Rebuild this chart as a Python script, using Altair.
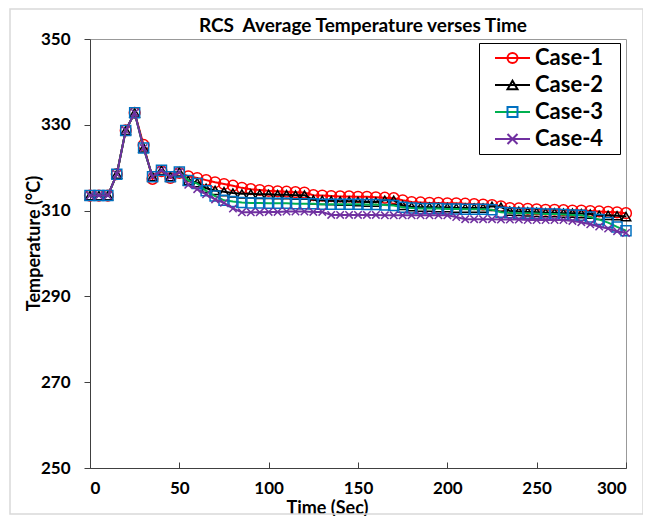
import altair as alt
import pandas as pd

# ---------------- data ----------------
time_sec = [0, 5, 10, 15, 20, 25, 30, 35, 40, 45, 50, 55, 60, 65, 70, 75, 80, 85, 90, 95, 100,
            105, 110, 115, 120, 125, 130, 135, 140, 145, 150, 155, 160, 165, 170, 175, 180, 185, 190, 195, 200,
            205, 210, 215, 220, 225, 230, 235, 240, 245, 250, 255, 260, 265, 270, 275, 280, 285, 290, 295, 300]

case1 = [313.5, 313.5, 313.5, 318.5, 328.7, 332.8, 325.3, 317.4, 319.2, 317.6, 318.8, 318.0, 317.6, 317.1, 316.6, 316.2, 315.8, 315.3, 315.0, 314.8, 314.6,
         314.5, 314.4, 314.3, 314.2, 313.6, 313.5, 313.4, 313.3, 313.3, 313.2, 313.2, 313.1, 313.0, 312.9, 312.4, 312.0, 311.9, 311.8, 311.8, 311.7,
         311.7, 311.6, 311.5, 311.4, 311.3, 311.0, 310.6, 310.5, 310.4, 310.3, 310.2, 310.2, 310.1, 310.0, 310.0, 309.9, 309.8, 309.7, 309.6, 309.4]
case2 = [313.5, 313.5, 313.5, 318.5, 328.7, 332.8, 324.6, 317.9, 319.4, 317.9, 319.0, 317.0, 316.5, 315.2, 314.7, 314.4, 314.1, 313.9, 313.9, 313.8, 313.8,
         313.7, 313.7, 313.6, 313.6, 312.5, 312.4, 312.3, 312.2, 312.2, 312.1, 312.0, 312.0, 312.4, 312.4, 311.2, 310.9, 310.8, 310.8, 310.7, 310.7,
         310.6, 310.6, 310.6, 310.6, 311.0, 310.8, 309.9, 309.8, 309.7, 309.6, 309.5, 309.5, 309.4, 309.4, 309.3, 309.2, 308.9, 308.9, 308.8, 308.6]
case3 = [313.5, 313.5, 313.5, 318.5, 328.7, 332.8, 324.6, 317.9, 319.4, 317.9, 319.0, 317.0, 316.3, 314.6, 313.4, 312.4, 312.1, 311.9, 311.8, 311.8, 311.7,
         311.7, 311.7, 311.6, 311.6, 311.6, 311.5, 311.5, 311.5, 311.5, 311.5, 311.4, 311.4, 311.3, 311.2, 310.8, 310.6, 310.5, 310.5, 310.5, 310.4,
         310.4, 310.3, 310.3, 310.3, 310.2, 309.6, 309.5, 309.4, 309.4, 309.3, 309.2, 309.2, 309.1, 309.0, 308.9, 308.5, 307.9, 307.2, 306.2, 305.3]
case4 = [313.5, 313.5, 313.5, 318.5, 328.7, 332.8, 324.6, 317.9, 319.4, 317.9, 319.0, 316.0, 315.0, 313.8, 312.6, 311.8, 310.5, 309.6, 309.6, 309.6, 309.7,
         309.7, 309.8, 309.8, 309.8, 309.7, 309.7, 309.0, 309.0, 309.0, 309.0, 309.0, 309.0, 308.9, 308.9, 308.9, 308.9, 308.9, 308.9, 308.9, 308.9,
         308.5, 308.0, 308.0, 308.0, 308.0, 307.9, 307.9, 307.9, 307.8, 307.8, 307.8, 307.8, 307.8, 307.6, 307.3, 306.8, 306.3, 305.8, 305.2, 304.8]

cases = ["Case-1", "Case-2", "Case-3", "Case-4"]
x_ticks = [0, 50, 100, 150, 200, 250, 300]
y_ticks = [250, 270, 290, 310, 330, 350]

# ---------------- styles ----------------
line_colors = ["#FF0000", "#000000", "#00B050", "#7030A0"]
marker_colors = ["#FF0000", "#000000", "#0070C0", "#7030A0"]
marker_shapes = ["circle", "triangle-up", "square", "M-1,-1L1,1M-1,1L1,-1"]
marker_sizes = [115, 90, 100, 55]
FONT = "Lato"

rows = []
for name, vals in zip(cases, [case1, case2, case3, case4]):
    for t, v in zip(time_sec, vals):
        rows.append({"Time": t, "Temp": v, "Case": name, "CaseM": name})
df = pd.DataFrame(rows)

W, H = 536, 429

x_main = alt.X("Time:Q", scale=alt.Scale(domain=[0, 300], nice=False),
               axis=alt.Axis(values=x_ticks, title="Time (Sec)", grid=False,
                             tickSize=0, labelPadding=12, domainColor="#404040",
                             labelFont=FONT, labelFontSize=17, labelFontWeight="bold", labelColor="black",
                             titleFont=FONT, titleFontSize=18, titleFontWeight="bold", titleColor="black",
                             titleBaseline="middle", titleX=237, titleY=40))
y_main = alt.Y("Temp:Q", scale=alt.Scale(domain=[250, 350], nice=False, zero=False),
               axis=alt.Axis(values=y_ticks, title="Temperature (°C)", grid=False,
                             tickSize=6, tickColor="#404040", labelPadding=14, domainColor="#404040",
                             labelFont=FONT, labelFontSize=17, labelFontWeight="bold", labelColor="black",
                             titleFont=FONT, titleFontSize=18, titleFontWeight="bold", titleColor="black",
                             titleBaseline="middle", titleAlign="center", titleAngle=270,
                             titleX=-56, titleY=204))

x_none = alt.X("Time:Q", axis=None)
y_none = alt.Y("Temp:Q", axis=None)

base = alt.Chart(df)

series_layers = []
for name, lc, mc, ms, sz in zip(cases, line_colors, marker_colors, marker_shapes, marker_sizes):
    src = base.transform_filter(alt.datum.Case == name).encode(x=x_main, y=y_main)
    series_layers.append(src.mark_line(color=lc, strokeWidth=2))
    series_layers.append(src.mark_point(shape=ms, color=mc, filled=False, size=sz,
                                        strokeWidth=1.5, opacity=1))
main = alt.layer(*series_layers)

# inward tick marks on the time axis
tick_layer = base.mark_point(opacity=0).encode(
    x=alt.X("Time:Q", axis=alt.Axis(orient="top", offset=-H, values=x_ticks, labels=False,
                                    domain=False, tickSize=6, tickColor="#404040", title=None)),
    y=y_none,
)

leg_common = dict(orient="none", legendX=389, legendY=4, padding=4, rowPadding=5,
                  symbolSize=100, symbolStrokeWidth=2, symbolOffset=18.5, labelOffset=11.5,
                  labelFont=FONT, labelFontSize=22, labelFontWeight="bold")

legA = alt.Legend(strokeColor="black", labelColor="black", title="M", titleOrient="right",
                  titleFontSize=10, titlePadding=4, titleOpacity=0, **leg_common)
leg_lines = base.mark_point(opacity=0, filled=False).encode(
    x=x_none, y=y_none,
    stroke=alt.Stroke("Case:N", scale=alt.Scale(domain=cases, range=line_colors), legend=legA),
    shape=alt.Shape("Case:N", scale=alt.Scale(domain=cases, range=["M-3.5,0H3.5"] * 4), legend=legA),
)

legB = alt.Legend(labelOpacity=0, symbolFillColor="white", title=None, **leg_common)
leg_marks = base.mark_point(opacity=0, filled=False).encode(
    x=x_none, y=y_none,
    stroke=alt.Stroke("CaseM:N", scale=alt.Scale(domain=cases, range=marker_colors), legend=legB),
    shape=alt.Shape("CaseM:N", scale=alt.Scale(domain=cases, range=marker_shapes), legend=legB),
)

frame = alt.Chart(pd.DataFrame({"k": [0]})).mark_rect(
    fill="transparent", stroke="#d9d9d9", strokeWidth=1.5
).encode(x=alt.value(-80), x2=alt.value(553), y=alt.value(-30), y2=alt.value(475))

chart = alt.layer(frame, main, tick_layer, leg_lines, leg_marks).resolve_axis(
    x="independent", y="independent"
).resolve_scale(
    stroke="independent", shape="independent"
).properties(
    width=W, height=H,
    autosize=alt.AutoSizeParams(type="none"),
    padding={"left": 82, "top": 31, "right": 17, "bottom": 48},
    title=alt.TitleParams("RCS\u00a0 Average Temperature verses Time", font=FONT, fontSize=19,
                          fontWeight="bold", color="black", anchor="middle", dx=5, offset=-28),
).configure_view(stroke="#999999", strokeWidth=1)

chart.save("out.html", embed_options={"renderer": "svg", "actions": False})
